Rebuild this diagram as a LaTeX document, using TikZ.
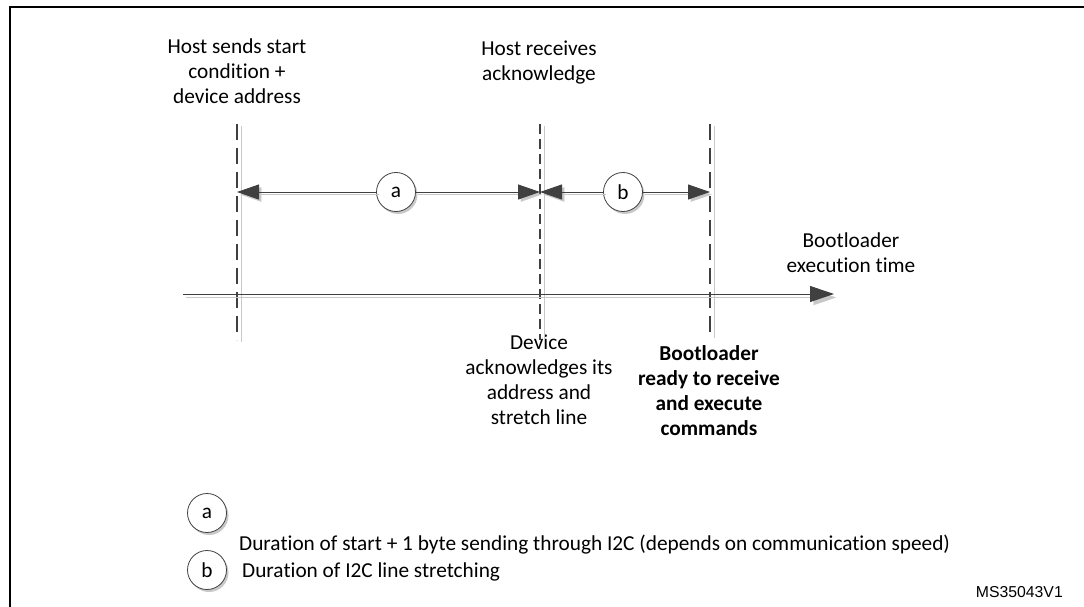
\documentclass[tikz,border=0pt]{standalone}
\usepackage{fontspec}
\setmainfont{Carlito}[Ligatures=NoCommon]
\newfontfamily\arialf{Liberation Sans}
\usetikzlibrary{arrows.meta,shadows}
\definecolor{dk}{HTML}{404040}
\definecolor{sh}{HTML}{C8C8C8}
\begin{document}
\begin{tikzpicture}[x=1pt,y=-1pt,
  txt/.style={align=center, inner sep=0pt, font=\fontsize{21.3}{25}\selectfont},
  vdash/.style={draw=dk, line width=2.4pt, dash pattern=on 16pt off 8pt,
    preaction={draw=sh, transform canvas={shift={(4pt,-2pt)}}}},
  vdashthin/.style={vdash, line width=1.6pt, dash pattern=on 10pt off 5pt},
  dimline/.style={draw=dk, line width=0.9pt, -{Triangle[length=22pt,width=15pt]},
    preaction={draw=sh, transform canvas={shift={(2.5pt,-2.5pt)}}}},
  axisline/.style={draw=dk, line width=1pt, -{Triangle[length=24pt,width=16pt]},
    preaction={draw=sh, transform canvas={shift={(3pt,-3.5pt)}}}},
  circ/.style={circle, draw=dk, line width=0.8pt, fill=white, minimum size=39pt,
    inner sep=0pt, font=\fontsize{21.3}{25}\selectfont,
    drop shadow={shadow xshift=2pt, shadow yshift=-2.5pt, fill=sh, opacity=1}},
  frame/.style={draw=black, line width=2.2pt}
]
\useasboundingbox (0,0) rectangle (1084,607);
% frame
\coordinate (fr1) at (1090,6.7);
\coordinate (fr2) at (10,6.7);
\coordinate (fr3) at (10,610);
\draw[frame] (fr1) -- (fr2) -- (fr3);

% labels
\node[txt, anchor=north] (hs) at (237,39) {Host sends start\\condition +\\device address};
\node[txt, anchor=north] (hr) at (539,41) {Host receives\\acknowledge};
\node[txt, anchor=north] (bet) at (851,233) {Bootloader\\execution time};
\node[txt, anchor=north] (dev) at (539,335) {Device\\acknowledges its\\address and\\stretch line};
\node[txt, anchor=north, font=\fontsize{21.3}{25}\selectfont\bfseries] (brd) at (709,345) {Bootloader\\ready to receive\\and execute\\commands};

% dashed vertical lines
\coordinate (v1t) at (237,124); \coordinate (v1b) at (237,340);
\coordinate (v2t) at (540,124); \coordinate (v2b) at (540,340);
\coordinate (v3t) at (710,124); \coordinate (v3b) at (710,336);
\draw[vdash] (v1t) -- (v1b);
\draw[vdashthin] (v2t) -- (v2b);
\draw[vdash] (v3t) -- (v3b);

% timeline
\coordinate (t0) at (183,294);
\coordinate (t1) at (834,294);
\draw[axisline] (t0) -- (t1);

% dimension arrows
\coordinate (a1) at (237,192);
\coordinate (a2) at (540,192);
\coordinate (b1) at (540,192);
\coordinate (b2) at (710,192);
\node[circ] (ca) at (396,192) {a};
\node[circ] (cb) at (623,192) {b};
\draw[dimline] (ca) -- (a1);
\draw[dimline] (ca) -- (a2);
\draw[dimline] (cb) -- (b1);
\draw[dimline] (cb) -- (b2);

% legend
\node[circ] (la) at (207,513) {a};
\node[circ] (lb) at (207,570) {b};
\node[txt, anchor=base west] (lta) at (239,550) {Duration of start + 1 byte sending through I2C (depends on communication speed)};
\node[txt, anchor=base west] (ltb) at (242,577) {Duration of I2C line stretching};

\node[inner sep=0pt, anchor=base east, font=\arialf\fontsize{15.8}{18}\selectfont] (ms) at (1063,597.5) {MS35043V1};
\end{tikzpicture}
\end{document}
